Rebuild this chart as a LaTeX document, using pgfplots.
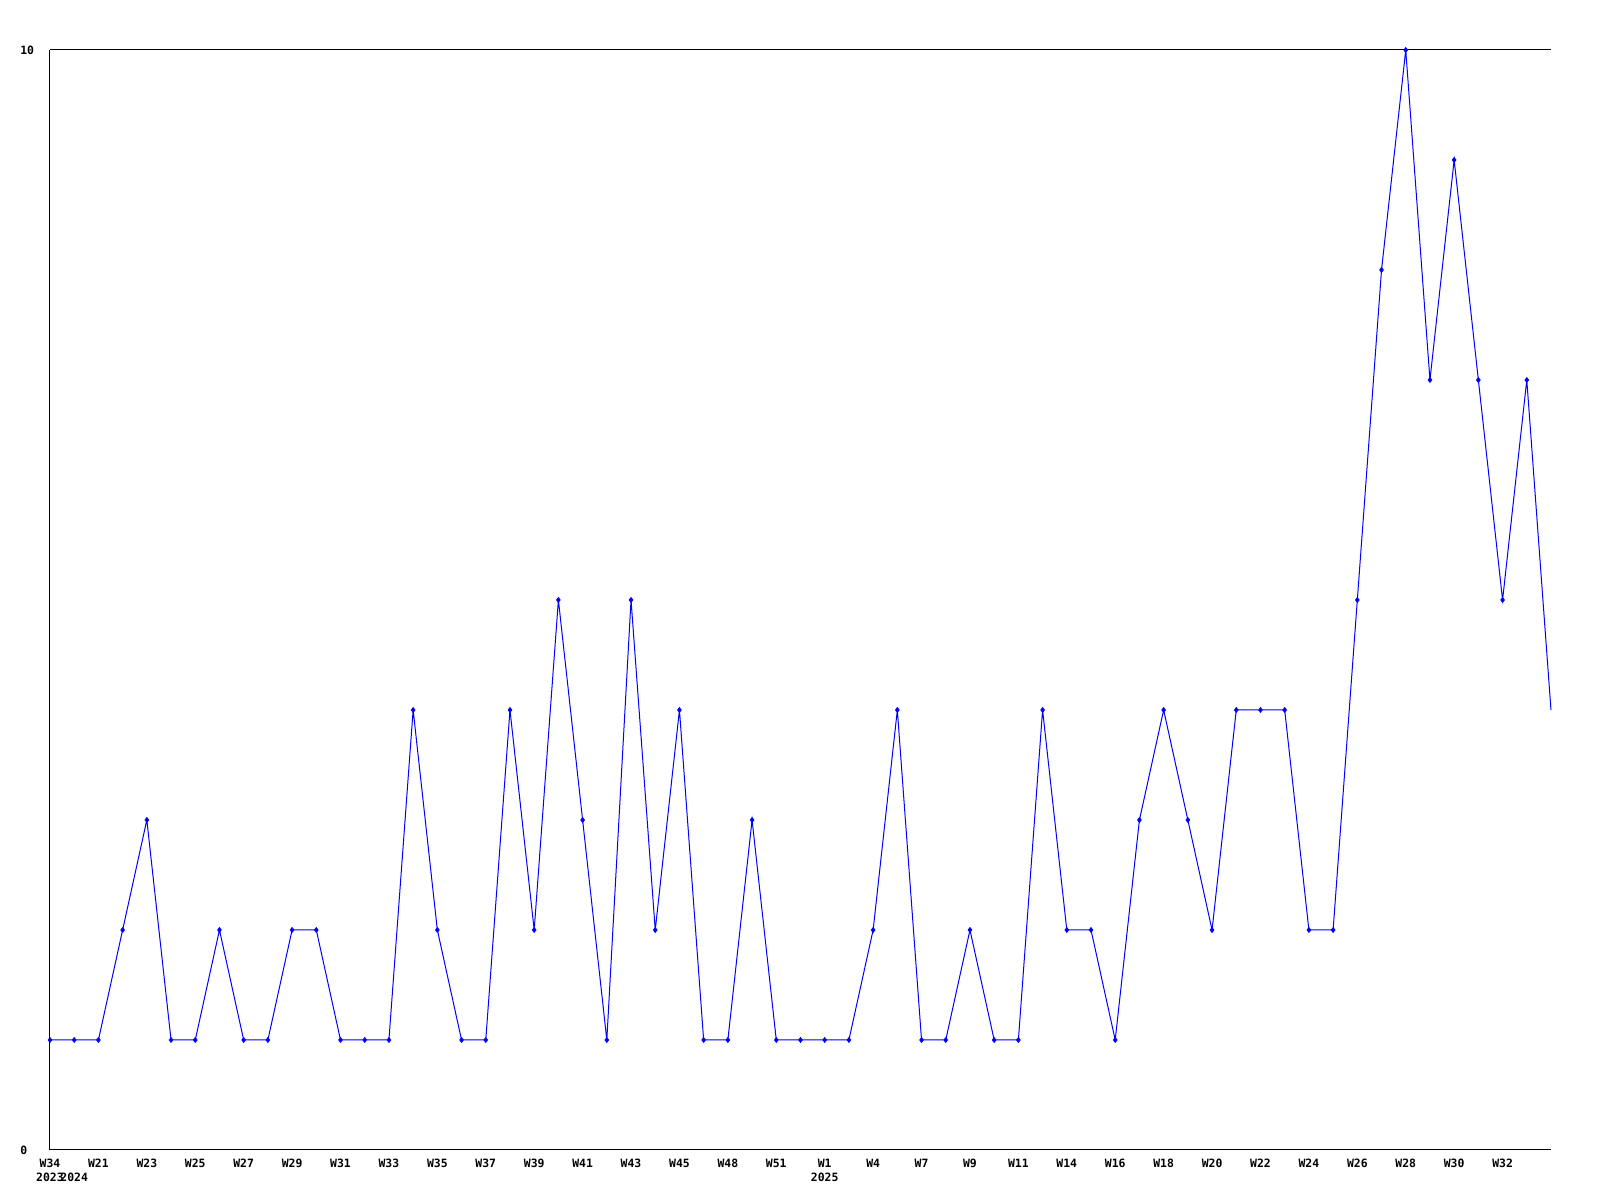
\documentclass[border=0pt]{standalone}
\usepackage{fontspec}
\newfontfamily\labelfont{DejaVu Sans Mono}
\usepackage{pgfplots}
\pgfplotsset{compat=1.18}
\begin{document}
\begin{tikzpicture}
\path[use as bounding box] (-1cm,-1cm) rectangle (31cm,23cm);
\begin{axis}[
  at={(0,0)}, anchor=south west,
  scale only axis, width=30.02cm, height=22cm,
  xmin=0, xmax=62, ymin=0, ymax=10,
  axis line style={draw=none},
  tick style={draw=none}, major tick length=0pt,
  clip=false,
  ytick={0,10}, yticklabels={0,10},
  yticklabel style={anchor=west, inner sep=0pt, xshift=-6mm, font=\labelfont\bfseries\fontsize{6.5}{8}\selectfont},
  xtick={0,2,...,60},
  xticklabels={{W34\\2023},W21,W23,W25,W27,W29,W31,W33,W35,W37,W39,W41,W43,W45,W48,W51,{W1\\2025},W4,W7,W9,W11,W14,W16,W18,W20,W22,W24,W26,W28,W30,W32},
  extra x ticks={1},
  extra x tick labels={{\phantom{W}\\2024}},
  xticklabel style={anchor=north, inner sep=0pt, yshift=-1.7mm, align=center, font=\labelfont\bfseries\fontsize{6.5}{8}\selectfont},
]
\draw[black, line width=0.2mm] (rel axis cs:0,1) -- (rel axis cs:0,0) -- (rel axis cs:1,0);
\draw[black, line width=0.2mm] (rel axis cs:0,1) -- (rel axis cs:1,1);
\addplot[color={rgb,255:red,0;green,0;blue,255}, line width=0.2mm, mark=diamond*, mark size=1.3pt, mark indices={1,...,62}] coordinates {
(0,1)(1,1)(2,1)(3,2)(4,3)(5,1)(6,1)(7,2)(8,1)(9,1)
(10,2)(11,2)(12,1)(13,1)(14,1)(15,4)(16,2)(17,1)(18,1)(19,4)
(20,2)(21,5)(22,3)(23,1)(24,5)(25,2)(26,4)(27,1)(28,1)(29,3)
(30,1)(31,1)(32,1)(33,1)(34,2)(35,4)(36,1)(37,1)(38,2)(39,1)
(40,1)(41,4)(42,2)(43,2)(44,1)(45,3)(46,4)(47,3)(48,2)(49,4)
(50,4)(51,4)(52,2)(53,2)(54,5)(55,8)(56,10)(57,7)(58,9)(59,7)
(60,5)(61,7)(62,4)
};
\end{axis}
\end{tikzpicture}
\end{document}
